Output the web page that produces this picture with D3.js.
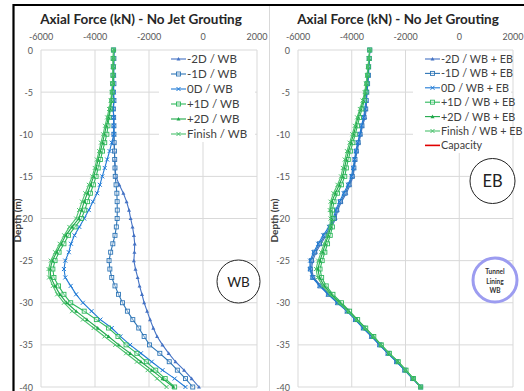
<!DOCTYPE html>
<html>
<head>
<meta charset="utf-8">
<script src="https://cdn.jsdelivr.net/npm/d3@7"></script>
<style>
  body { margin: 0; background: #fff; }
  svg { display: block; font-family: Lato, "Liberation Sans", sans-serif; }
</style>
</head>
<body>
<svg id="chart" width="524" height="391"></svg>
<script>
// depth of every output node (m)
const depth = [0,-1,-2,-3,-4,-5,-6,-7,-8,-9,-10,-11,-12,-13,-14,-15,-16,-17,-18,-19,-20,
  -21,-22,-23,-24,-25,-26,-27,-28,-29,-30,-31,-32,-33,-34,-35,-36,-37,-38,-39,-40]

const xTicks = [-6000, -4000, -2000, 0, 2000]
const yTicks = [0, -5, -10, -15, -20, -25, -30, -35, -40]

// axial force (kN), wall barrier only
const wbM2 = [-3300,-3310,-3300,-3320,-3310,-3320,-3310,-3330,-3300,-3310,-3300,-3290,-3280,-3270,-3250,-3230,-3100,-2950,-2830,-2740,-2680,-2610,-2560,-2530,-2540,-2560,-2500,-2420,-2350,-2260,-2180,-2070,-1960,-1840,-1700,-1500,-1270,-1020,-700,-420,-150]
const wbM1 = [-3310,-3300,-3320,-3310,-3300,-3320,-3300,-3320,-3310,-3300,-3300,-3290,-3280,-3270,-3260,-3250,-3220,-3190,-3180,-3175,-3180,-3210,-3260,-3340,-3420,-3480,-3450,-3380,-3260,-3130,-2980,-2800,-2600,-2380,-2180,-1980,-1600,-1250,-950,-650,-380]
const wb0 = [-3300,-3310,-3300,-3310,-3320,-3310,-3300,-3320,-3310,-3300,-3300,-3380,-3460,-3550,-3640,-3730,-3820,-3920,-4080,-4230,-4400,-4580,-4760,-4890,-4970,-5100,-5150,-5100,-4900,-4700,-4450,-4130,-3800,-3380,-3060,-2700,-2300,-1900,-1500,-1050,-650]
const wbP1 = [-3320,-3330,-3320,-3340,-3350,-3360,-3380,-3420,-3480,-3520,-3560,-3640,-3720,-3800,-3880,-3960,-4060,-4170,-4280,-4380,-4500,-4740,-4980,-5150,-5330,-5480,-5560,-5520,-5350,-5150,-4900,-4400,-3950,-3500,-3150,-2850,-2450,-2100,-1750,-1400,-1050]
const wbP2 = [-3300,-3320,-3330,-3320,-3340,-3370,-3400,-3450,-3500,-3580,-3650,-3720,-3800,-3880,-3960,-4050,-4160,-4280,-4400,-4500,-4600,-4850,-5080,-5250,-5420,-5580,-5660,-5640,-5480,-5300,-5050,-4700,-4300,-3900,-3500,-3120,-2700,-2300,-1900,-1500,-1100]
const wbFin = [-3310,-3320,-3340,-3330,-3350,-3380,-3420,-3480,-3550,-3630,-3700,-3780,-3850,-3930,-4010,-4100,-4230,-4360,-4480,-4590,-4700,-4950,-5140,-5310,-5480,-5640,-5720,-5700,-5560,-5400,-5150,-4850,-4450,-4050,-3650,-3250,-2850,-2450,-2050,-1700,-1350]

// axial force (kN), wall barrier + earth berm
const ebM2 = [-3330,-3340,-3360,-3380,-3400,-3430,-3450,-3460,-3500,-3600,-3660,-3730,-3800,-3860,-3900,-3950,-4060,-4200,-4380,-4520,-4600,-4750,-4950,-5150,-5330,-5450,-5500,-5420,-5150,-4850,-4500,-4150,-3850,-3560,-3250,-2950,-2650,-2330,-2030,-1730,-1435]
const ebM1 = [-3330,-3350,-3370,-3380,-3410,-3440,-3460,-3480,-3540,-3620,-3690,-3760,-3830,-3880,-3920,-3980,-4100,-4250,-4420,-4560,-4640,-4800,-5000,-5200,-5380,-5500,-5540,-5450,-5180,-4870,-4520,-4170,-3860,-3570,-3260,-2960,-2650,-2330,-2030,-1730,-1435]
const eb0 = [-3330,-3350,-3370,-3390,-3420,-3450,-3480,-3510,-3560,-3640,-3700,-3780,-3850,-3900,-3950,-4010,-4140,-4300,-4460,-4600,-4680,-4850,-5060,-5250,-5420,-5550,-5560,-5470,-5200,-4880,-4540,-4180,-3870,-3580,-3270,-2970,-2660,-2340,-2030,-1730,-1435]
const ebP1 = [-3330,-3350,-3380,-3410,-3440,-3470,-3530,-3620,-3710,-3790,-3870,-3960,-4050,-4130,-4200,-4260,-4380,-4530,-4660,-4720,-4700,-4720,-4800,-4900,-5000,-5100,-5180,-5120,-4950,-4700,-4380,-4080,-3780,-3480,-3180,-2900,-2600,-2270,-1980,-1700,-1435]
const ebP2 = [-3330,-3360,-3390,-3420,-3460,-3500,-3570,-3670,-3770,-3850,-3930,-4030,-4120,-4200,-4270,-4340,-4460,-4610,-4740,-4790,-4760,-4780,-4870,-4980,-5080,-5180,-5260,-5200,-5020,-4760,-4440,-4120,-3810,-3500,-3200,-2910,-2610,-2280,-1990,-1710,-1435]
const ebFin = [-3330,-3360,-3400,-3430,-3470,-3520,-3600,-3700,-3800,-3890,-3980,-4080,-4180,-4260,-4330,-4400,-4530,-4680,-4790,-4820,-4790,-4820,-4910,-5030,-5140,-5250,-5330,-5270,-5080,-4810,-4480,-4150,-3830,-3520,-3210,-2920,-2620,-2290,-2000,-1710,-1435]

const stages = ["-2D", "-1D", "0D", "+1D", "+2D", "Finish"]
const colors = ["#4472C4", "#2E75B6", "#1F7AD6", "#2EB85C", "#1FA84A", "#4CC26E"]
const markers = ["tri", "sq", "x", "sq", "tri", "x"]

const svg = d3.select("#chart")

// outer frame bits of the screenshot
svg.append("line").attr("x1", 13).attr("x2", 524).attr("y1", 5).attr("y2", 5)
  .attr("stroke", "#000").attr("stroke-width", 2.2)
svg.append("line").attr("x1", 13.5).attr("x2", 13.5).attr("y1", 4).attr("y2", 391)
  .attr("stroke", "#000").attr("stroke-width", 2.2)
svg.append("line").attr("x1", 269.5).attr("x2", 269.5).attr("y1", 6).attr("y2", 391)
  .attr("stroke", "#d9d9d9").attr("stroke-width", 1)

const y = d3.scaleLinear().domain([0, -40]).range([50, 387])

const drawMarker = (g, type, cx, cy, color, s) => {
  if (type === "tri") {
    g.append("path")
      .attr("d", `M${cx},${cy - s}L${cx + s},${cy + s * 0.8}L${cx - s},${cy + s * 0.8}Z`)
      .attr("fill", color)
  } else if (type === "sq") {
    g.append("rect").attr("x", cx - s).attr("y", cy - s)
      .attr("width", s * 2).attr("height", s * 2)
      .attr("fill", "rgba(255,255,255,0.35)").attr("stroke", color).attr("stroke-width", 0.9)
  } else {
    g.append("path")
      .attr("d", `M${cx - s},${cy - s}L${cx + s},${cy + s}M${cx - s},${cy + s}L${cx + s},${cy - s}`)
      .attr("stroke", color).attr("stroke-width", 1)
  }
}

const drawPanel = (opt) => {
  const x = d3.scaleLinear().domain([-6000, 2000]).range([opt.left, opt.right])
  const g = svg.append("g")

  // grid
  g.selectAll(".vg").data(xTicks).join("line")
    .attr("x1", d => x(d)).attr("x2", d => x(d))
    .attr("y1", y(0)).attr("y2", y(-40))
    .attr("stroke", "#d9d9d9").attr("stroke-width", 1)
  g.selectAll(".hg").data(yTicks).join("line")
    .attr("x1", x(-6000)).attr("x2", x(2000))
    .attr("y1", d => y(d)).attr("y2", d => y(d))
    .attr("stroke", "#d9d9d9").attr("stroke-width", 1)

  // tick labels
  g.selectAll(".xt").data(xTicks).join("text")
    .attr("x", d => x(d)).attr("y", 40)
    .attr("text-anchor", "middle")
    .attr("font-size", 9).attr("fill", "#595959")
    .text(d => d)
  g.selectAll(".yt").data(yTicks).join("text")
    .attr("x", opt.left - 8).attr("y", d => y(d) + 3.5)
    .attr("text-anchor", "end")
    .attr("font-size", 9).attr("fill", "#595959")
    .text(d => d)

  // titles
  g.append("text").attr("x", opt.titleX).attr("y", 24)
    .attr("text-anchor", "middle").attr("font-size", 13.5).attr("font-weight", "bold")
    .attr("fill", "#262626")
    .text("Axial Force (kN) - No Jet Grouting")
  g.append("text")
    .attr("transform", `translate(${opt.left - 20},${(y(0) + y(-40)) / 2 + 2}) rotate(-90)`)
    .attr("text-anchor", "middle").attr("font-size", 10).attr("font-weight", "bold")
    .attr("fill", "#404040")
    .text("Depth (m)")

  // series
  const line = d3.line().x(d => x(d[0])).y(d => y(d[1]))
  opt.series.forEach((vals, i) => {
    const pts = vals.map((v, k) => [v, depth[k]])
    const sg = g.append("g")
    sg.append("path").datum(pts)
      .attr("d", line)
      .attr("fill", "none").attr("stroke", colors[i]).attr("stroke-width", 1.1)
    pts.forEach(p => drawMarker(sg, markers[i], x(p[0]), y(p[1]), colors[i], 2))
  })

  // legend
  const lg = g.append("g")
  lg.append("rect").attr("x", opt.legX - 12).attr("y", y(0) + 1)
    .attr("width", opt.right - opt.legX + 10).attr("height", opt.legH)
    .attr("fill", "#fff")
  opt.labels.forEach((lab, i) => {
    const ly = 59 + i * opt.legStep
    const c = i < colors.length ? colors[i] : "#E00000"
    lg.append("line").attr("x1", opt.legX).attr("x2", opt.legX + 15)
      .attr("y1", ly).attr("y2", ly).attr("stroke", c).attr("stroke-width", i < colors.length ? 1.1 : 1.6)
    if (i < markers.length) drawMarker(lg, markers[i], opt.legX + 7.5, ly, c, 2)
    lg.append("text").attr("x", opt.legX + 16).attr("y", ly + 4)
      .attr("font-size", opt.legFont).attr("fill", "#404040")
      .text(lab)
  })
  return x
}

drawPanel({
  left: 41, right: 257, titleX: 141,
  series: [wbM2, wbM1, wb0, wbP1, wbP2, wbFin],
  labels: stages.map(s => `${s} / WB`),
  legX: 171, legStep: 15, legH: 91, legFont: 11.5
})

drawPanel({
  left: 298, right: 513, titleX: 398,
  series: [ebM2, ebM1, eb0, ebP1, ebP2, ebFin],
  labels: stages.map(s => `${s} / WB + EB`).concat(["Capacity"]),
  legX: 425, legStep: 14.4, legH: 102, legFont: 10.8
})

// annotation circles
const notes = svg.append("g")
notes.append("circle").attr("cx", 238.5).attr("cy", 281.5).attr("r", 21.5)
  .attr("fill", "#fff").attr("stroke", "#222").attr("stroke-width", 1)
notes.append("text").attr("x", 238.5).attr("y", 286.5).attr("text-anchor", "middle")
  .attr("font-size", 13.5).attr("fill", "#222").text("WB")

notes.append("circle").attr("cx", 492.5).attr("cy", 181).attr("r", 22.5)
  .attr("fill", "#fff").attr("stroke", "#222").attr("stroke-width", 1)
notes.append("text").attr("x", 492.5).attr("y", 187).attr("text-anchor", "middle")
  .attr("font-size", 16.5).attr("fill", "#222").text("EB")

notes.append("circle").attr("cx", 495).attr("cy", 280).attr("r", 22)
  .attr("fill", "#fff").attr("stroke", "#9C9CF0").attr("stroke-width", 3)
const tl = ["Tunnel", "Lining", "WB"]
notes.selectAll(".tl").data(tl).join("text")
  .attr("x", 495).attr("y", (d, i) => 274 + i * 9.5)
  .attr("text-anchor", "middle").attr("font-size", 6.5).attr("font-weight", "bold")
  .attr("fill", "#333").text(d => d)
</script>
</body>
</html>
